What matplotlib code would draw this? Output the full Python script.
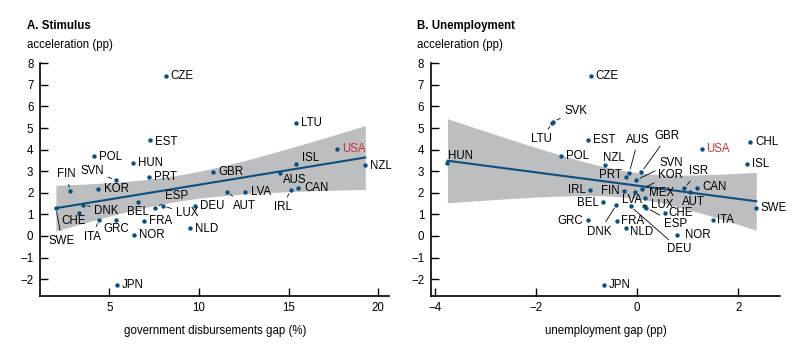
import numpy as np
import matplotlib
matplotlib.use("Agg")
import matplotlib.pyplot as plt

plt.rcParams['font.family'] = ['Liberation Sans', 'DejaVu Sans']
FS = 8.3
plt.rcParams['font.size'] = FS

# ---------------- data ----------------
countries_a = ["CZE", "LTU", "EST", "USA", "POL", "HUN", "ISL", "NZL", "SVN", "PRT",
               "GBR", "AUS", "FIN", "KOR", "CAN", "IRL", "AUT", "LVA", "SWE", "DNK",
               "BEL", "ESP", "LUX", "DEU", "CHE", "ITA", "GRC", "FRA", "NOR", "NLD", "JPN"]
stim_gap = [8.15, 15.43, 7.29, 17.7, 4.15, 6.34, 15.41, 19.27, 5.36, 7.2,
            10.78, 14.54, 2.82, 4.35, 15.53, 15.11, 11.58, 12.58, 2.02, 3.55,
            6.62, 7.57, 7.98, 9.75, 3.32, 4.41, 5.36, 6.94, 6.36, 9.52, 5.43]
accel_a = [7.39, 5.23, 4.43, 4.01, 3.69, 3.39, 3.35, 3.29, 2.59, 2.75,
           2.95, 2.92, 2.07, 2.19, 2.22, 2.13, 2.05, 2.04, 1.31, 1.45,
           1.57, 1.31, 1.39, 1.37, 1.08, 0.76, 0.72, 0.71, 0.06, 0.36, -2.28]

countries_b = ["CZE", "SVK", "LTU", "EST", "USA", "CHL", "POL", "HUN", "ISL", "NZL",
               "AUS", "GBR", "PRT", "SVN", "KOR", "ISR", "CAN", "AUT", "IRL", "FIN",
               "LVA", "MEX", "BEL", "DNK", "DEU", "LUX", "ESP", "SWE", "CHE", "ITA",
               "GRC", "FRA", "NLD", "NOR", "JPN"]
unemp_gap = [-0.92, -1.66, -1.68, -0.98, 1.28, 2.23, -1.50, -3.75, 2.16, -0.63,
             -0.16, 0.08, -0.22, -0.02, 0.10, 0.93, 1.19, 1.05, -0.94, -0.27,
             -0.05, 0.16, -0.68, -0.41, -0.13, 0.14, 0.18, 2.35, 0.54, 1.49,
             -0.97, -0.39, -0.22, 0.79, -0.65]
accel_b = [7.39, 5.29, 5.23, 4.43, 4.01, 4.37, 3.69, 3.39, 3.35, 3.29,
           2.92, 2.95, 2.75, 2.59, 2.19, 2.21, 2.22, 2.05, 2.13, 2.07,
           2.04, 1.75, 1.57, 1.45, 1.37, 1.39, 1.31, 1.31, 1.08, 0.76,
           0.72, 0.71, 0.36, 0.06, -2.28]

yticks = [-2, -1, 0, 1, 2, 3, 4, 5, 6, 7, 8]
xticks_a = [5, 10, 15, 20]
xticks_b = [-4, -2, 0, 2]
xticklabels_b = ["\u22124", "\u22122", "0", "2"]

# ---------------- label placement (pixel offsets, ha, leader line) ----------------
lab_a = {
    "CZE": (5, 0, 'left', False), "LTU": (5, 0, 'left', False), "EST": (5, -2, 'left', False),
    "USA": (5, 0, 'left', False), "POL": (5, -1, 'left', False), "HUN": (5, 0, 'left', False),
    "ISL": (6, 6, 'left', False), "NZL": (5, -1, 'left', False), "SVN": (-12, 9, 'right', True),
    "PRT": (5, 0, 'left', False), "GBR": (5, 0, 'left', False), "AUS": (3, -7, 'left', False),
    "FIN": (-4, 17, 'center', True), "KOR": (6, 0, 'left', False), "CAN": (6, 0, 'left', False),
    "IRL": (-8, -17, 'center', True), "AUT": (17, -14, 'center', True), "LVA": (6, 0, 'left', False),
    "SWE": (6, -33, 'center', True), "DNK": (11, -6, 'left', True), "BEL": (0, -10, 'center', False),
    "ESP": (10, 12, 'left', True), "LUX": (13, -7, 'left', True), "DEU": (5, 0, 'left', False),
    "CHE": (-6, -8, 'center', False), "ITA": (-6, -17, 'center', True), "GRC": (0, -9, 'center', False),
    "FRA": (5, 0, 'left', False), "NOR": (5, 0, 'left', False), "NLD": (5, -1, 'left', False),
    "JPN": (5, 0, 'left', False),
}
lab_b = {
    "CZE": (5, 0, 'left', False), "SVK": (11, 11, 'left', True), "LTU": (-11, -16, 'center', True),
    "EST": (5, 0, 'left', False), "USA": (4, 0, 'left', False), "CHL": (5, 0, 'left', False),
    "POL": (5, 0, 'left', False), "HUN": (1, 7, 'left', False), "ISL": (5, 0, 'left', False),
    "NZL": (9, 7, 'center', False), "AUS": (9, 33, 'center', True), "GBR": (26, 36, 'center', True),
    "PRT": (-4, 2, 'right', False), "SVN": (23, 17, 'left', True), "KOR": (16, 14, 'left', True),
    "ISR": (14, 17, 'center', True), "CAN": (5, 1, 'left', False), "AUT": (3, -10, 'center', False),
    "IRL": (-4, 0, 'right', False), "FIN": (-4, 0, 'right', False), "LVA": (-3, -8, 'center', False),
    "MEX": (4, 5, 'left', False), "BEL": (-4, -1, 'right', False), "DNK": (-17, -27, 'center', True),
    "DEU": (49, -43, 'center', True), "LUX": (7, 1, 'left', True), "ESP": (29, -16, 'center', True),
    "SWE": (4, 0, 'left', False), "CHE": (4, 0, 'left', False), "ITA": (4, 0, 'left', False),
    "GRC": (-5, -1, 'right', False), "FRA": (4, 0, 'left', False), "NLD": (4, -4, 'left', False),
    "NOR": (8, 0, 'left', False), "JPN": (4, 0, 'left', False),
}

DOT = "#0b4f7f"
BAND = "#bdbec0"
RED = "#c8343a"

fig = plt.figure(figsize=(8.0, 3.47), dpi=100)
ax_a = fig.add_axes([0.0504, 0.147, 0.436, 0.6706])
ax_b = fig.add_axes([0.539, 0.147, 0.436, 0.6706])


def fit_band(x, y, t=2.04, n=100):
    x = np.asarray(x, float)
    y = np.asarray(y, float)
    b, a = np.polyfit(x, y, 1)
    res = y - (a + b * x)
    s = np.sqrt(np.sum(res ** 2) / (len(x) - 2))
    xx = np.linspace(x.min(), x.max(), n)
    se = s * np.sqrt(1 / len(x) + (xx - x.mean()) ** 2 / np.sum((x - x.mean()) ** 2))
    yy = a + b * xx
    return xx, yy, yy - t * se, yy + t * se


def panel(ax, names, xs, ys, labs, xlim, xticks, xticklabels, xlabel):
    xx, yy, lo, hi = fit_band(xs, ys)
    ax.fill_between(xx, lo, hi, color=BAND, lw=0, zorder=1)
    ax.plot(xx, yy, color=DOT, lw=1.5, zorder=2)
    ax.scatter(xs, ys, s=10, color=DOT, zorder=3, lw=0)
    for n, x, y in zip(names, xs, ys):
        dx, dy, ha, leader = labs[n]
        col = RED if n == "USA" else "black"
        kw = {}
        if leader:
            kw['arrowprops'] = dict(arrowstyle='-', lw=0.6, color='black',
                                    shrinkA=1, shrinkB=3)
        ax.annotate(n, (x, y), xytext=(dx, dy), textcoords='offset pixels',
                    ha=ha, va='center', fontsize=FS, color=col, zorder=4, **kw)
    ax.set_xlim(*xlim)
    ax.set_ylim(-2.78, 8)
    ax.set_yticks(yticks)
    ax.set_yticklabels([str(v).replace('-', '\u2212') for v in yticks])
    ax.set_xticks(xticks)
    ax.set_xticklabels(xticklabels)
    for s in ['top', 'right']:
        ax.spines[s].set_visible(False)
    for s in ['left', 'bottom']:
        ax.spines[s].set_linewidth(1.2)
    ax.tick_params(direction='in', length=5.5, width=1.0, labelsize=FS, pad=4)
    ax.tick_params(axis='y', pad=5)
    ax.set_xlabel(xlabel, fontsize=FS, labelpad=8)
    ax.set_facecolor('none')
    return ax


panel(ax_a, countries_a, stim_gap, accel_a, lab_a, (1.15, 20.6), xticks_a,
      [str(v) for v in xticks_a], "government disbursements gap (%)")
panel(ax_b, countries_b, unemp_gap, accel_b, lab_b, (-4.07, 2.82), xticks_b,
      xticklabels_b, "unemployment gap (pp)")

fig.text(27 / 800, 1 - 26 / 347, "A. Stimulus", fontsize=FS, fontweight='bold', va='center', ha='left')
fig.text(27 / 800, 1 - 45 / 347, "acceleration (pp)", fontsize=FS, va='center', ha='left')
fig.text(417 / 800, 1 - 26 / 347, "B. Unemployment", fontsize=FS, fontweight='bold', va='center', ha='left')
fig.text(417 / 800, 1 - 45 / 347, "acceleration (pp)", fontsize=FS, va='center', ha='left')

fig.savefig("out.png", dpi=100)
